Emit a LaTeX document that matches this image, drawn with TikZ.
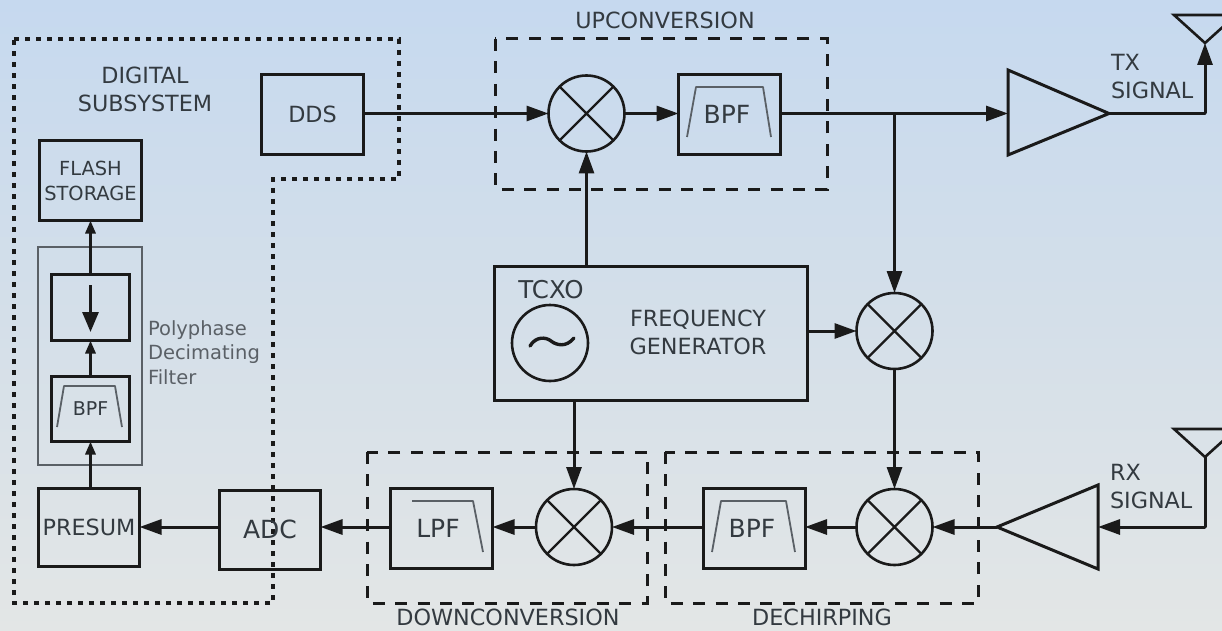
\documentclass[tikz,border=0pt]{standalone}
\usepackage{fontspec}
\setmainfont{DejaVu Sans}
\usetikzlibrary{arrows.meta}
\definecolor{txt}{HTML}{333A40}
\definecolor{lin}{HTML}{1A1A1A}
\definecolor{gr}{HTML}{5A6066}
\definecolor{bgtop}{HTML}{C6D9EF}
\definecolor{bgmid}{HTML}{D4DFE9}
\definecolor{bgbot}{HTML}{E3E6E6}
\newcommand{\fs}[2]{\fontsize{#1}{#2}\selectfont}
\tikzset{
  x=1pt,y=-1pt,
  every node/.style={text=txt,inner sep=0pt,outer sep=0pt,font=\fs{22.3}{28}},
  blk/.style={draw=lin,line width=3pt,minimum width=#1,align=center},
  mixer/.style={draw=lin,circle,line width=2.6pt,minimum size=76pt,
    path picture={\draw[lin,line width=2.4pt]
      ([shift={(11,-11)}]path picture bounding box.south west)--([shift={(-11,11)}]path picture bounding box.north east)
      ([shift={(11,11)}]path picture bounding box.north west)--([shift={(-11,-11)}]path picture bounding box.south east);}},
  conn/.style={draw=lin,line width=3pt,-{Triangle[length=22pt,width=15pt]}},
  sconn/.style={draw=lin,line width=3pt,-{Triangle[length=13pt,width=10pt]}},
  iconn/.style={draw=lin,line width=3pt,-{Triangle[length=20pt,width=16pt]}},
  plain/.style={draw=lin,line width=3pt},
  dotbox/.style={draw=lin,line width=3.2pt,dash pattern=on 5pt off 6pt},
  dashbox/.style={draw=lin,line width=3pt,dash pattern=on 12pt off 10.4pt},
  filt/.style={draw=gr,line width=1.8pt,line join=round},
  lbl/.style={align=center},
}
\begin{document}
\begin{tikzpicture}
\useasboundingbox (0,0) rectangle (1222,631);
\shade[top color=bgtop,bottom color=bgbot,middle color=bgmid] (0,0) rectangle (1222,631);
% group outlines
\draw[dotbox] (14,39)--(399,39)--(399,179)--(273,179)--(273,603)--(14,603)--cycle;
\draw[dashbox] (495,39) rectangle (827,189);
\draw[dashbox] (367,452) rectangle (647,603);
\draw[dashbox] (665,452) rectangle (978,603);
\draw[draw=gr,line width=2pt] (38,247) rectangle (142,465);
% blocks
\node[blk=102pt,minimum height=80pt] (dds) at (312.5,114.5) {DDS};
\node[blk=102pt,minimum height=80pt,font=\fs{19.4}{25}] (flash) at (90.5,180.5) {FLASH\\STORAGE};
\node[blk=78pt,minimum height=66pt] (dec) at (90.5,307.5) {};
\node[blk=78pt,minimum height=65pt,font=\fs{19}{24}] (bpfs) at (90.5,409) {BPF};
\node[blk=101pt,minimum height=78pt] (pres) at (89,527.5) {PRESUM};
\node[blk=101pt,minimum height=79pt,font=\fs{25}{30}] (adc) at (270,530) {\raisebox{2pt}{ADC}};
\node[blk=102pt,minimum height=80pt,font=\fs{25}{30}] (lpf) at (441.5,528.5) {LPF\hspace*{7pt}};
\node[blk=102pt,minimum height=80pt,font=\fs{25}{30}] (bpfd) at (754,528.5) {BPF\hspace*{4pt}};
\node[blk=102pt,minimum height=80pt,font=\fs{25}{30}] (bpfu) at (729.5,114.5) {BPF\hspace*{5pt}};
\node[blk=313pt,minimum height=134pt] (gen) at (651,333.5) {};
\node[mixer] (mu) at (586.5,113.5) {};
\node[mixer] (mr) at (894.5,331) {};
\node[mixer] (md) at (894.5,527) {};
\node[mixer] (ml) at (574,527) {};
\node[draw=lin,circle,line width=2.6pt,minimum size=76pt] (osc) at (550,343) {};
% filter masks
\draw[filt] (687,137)--(696,87)--(763,87)--(771,137);
\draw[filt] (712,552)--(721,501)--(786,501)--(795,552);
\draw[filt] (412,501)--(473,501)--(483,552);
\draw[filt] (57,427)--(64,386)--(115,386)--(122,427);
% oscillator symbol
\draw[lin,line width=3.4pt,line cap=round] (530,346) .. controls (536,336) and (546,337) .. (551,341) .. controls (556,345) and (566,348) .. (574,338);
% amplifiers and antennas
\coordinate (txi) at (1008,113.5);
\coordinate (txo) at (1109,113.5);
\coordinate (txc) at (1205,113.5);
\coordinate (txa) at (1205,43);
\coordinate (rxi) at (1098,527);
\coordinate (rxo) at (997,527);
\coordinate (rxc) at (1205,527);
\coordinate (rxa) at (1205,457);
\coordinate (jn) at (894.5,113.5);
\draw[plain,line join=miter] (1008,70)--(1008,155)--(txo)--cycle;
\draw[plain,line join=miter] (1098,485)--(1098,569)--(rxo)--cycle;
\draw[plain,line width=2.6pt] (1174,15)--(txa)--(1236,15)--cycle;
\draw[plain,line width=2.6pt] (1174,429)--(rxa)--(1236,429)--cycle;
% connectors
\draw[conn] (dds.east|-mu)--(mu.west);
\draw[conn] (mu.east)--(bpfu.west|-mu);
\draw[plain] (bpfu.east|-mu)--(jn);
\draw[conn] (jn)--(txi);
\draw[conn] (jn)--(mr.north);
\draw[conn] (gen.north-|mu)--(mu.south);
\draw[conn] (gen.east|-mr)--(mr.west);
\draw[conn] (gen.south-|ml)--(ml.north);
\draw[conn] (mr.south)--(md.north);
\draw[plain,line cap=round] (txo)--(txc);
\draw[conn] (txc)--(txa);
\draw[plain,line cap=round] (rxa)--(rxc);
\draw[conn] (rxc)--(rxi);
\draw[conn] (rxo)--(md.east);
\draw[conn] (md.west)--(bpfd.east|-md);
\draw[conn] (bpfd.west|-ml)--(ml.east);
\draw[conn] (ml.west)--(lpf.east|-ml);
\draw[conn] (lpf.west|-ml)--(adc.east|-ml);
\draw[conn] (adc.west|-ml)--(pres.east|-ml);
\draw[sconn] (pres.north-|bpfs)--(bpfs.south);
\draw[sconn] (bpfs.north)--(dec.south);
\draw[sconn] (dec.north)--(flash.south);
\coordinate (dt) at (90.5,285);
\coordinate (db) at (90.5,332);
\draw[iconn] (dt)--(db);
% labels
\node[lbl] (l1) at (665,20) {UPCONVERSION};
\node[lbl] (l2) at (145,89.5) {DIGITAL\\SUBSYSTEM};
\node[lbl,font=\fs{24.5}{28}] (l3) at (551,290) {TCXO};
\node[lbl] (l4) at (698,332) {FREQUENCY\\GENERATOR};
\node[lbl,align=left,anchor=west] (l5) at (1111,77) {TX\\SIGNAL};
\node[lbl,align=left,anchor=west] (l6) at (1110,487) {RX\\SIGNAL};
\node (l7) at (508,617.5) {DOWNCONVERSION};
\node (l8) at (822,617.5) {DECHIRPING};
\node[lbl,align=left,anchor=west,text=gr,font=\fs{19.5}{24.5}] (l9) at (148,352.5) {Polyphase\\Decimating\\Filter};
\end{tikzpicture}
\end{document}
